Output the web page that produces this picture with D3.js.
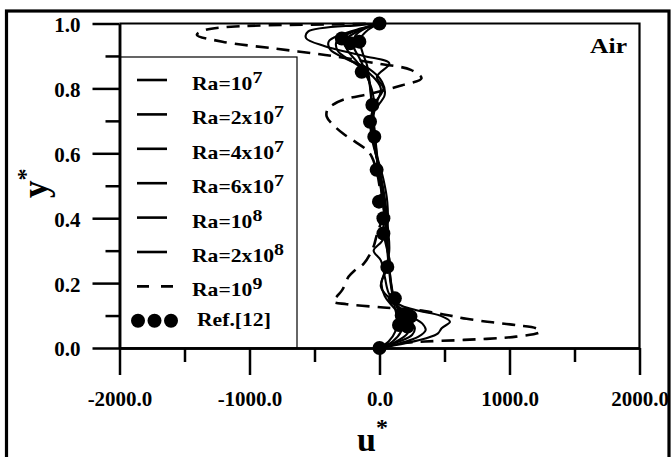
<!DOCTYPE html>
<html>
<head>
<meta charset="utf-8">
<script src="https://cdn.jsdelivr.net/npm/d3@7/dist/d3.min.js"></script>
<style>
  html, body { margin: 0; padding: 0; background: #fff; }
  svg { display: block; }
  text { font-family: "Liberation Serif", "Times New Roman", serif; font-weight: bold; fill: #000; }
</style>
</head>
<body>
<svg id="chart" width="671" height="457"></svg>
<script>
// Horizontal velocity profiles u* across the cavity height y* (air)
const y_ra1e7 = [0, 0.02, 0.05, 0.09, 0.13, 0.2, 0.3, 0.4, 0.5, 0.6, 0.7, 0.8, 0.87, 0.91, 0.95, 0.98, 1.0];
const u_ra1e7 = [0, 70, 120, 135, 115, 85, 60, 40, 10, -20, -45, -70, -95, -130, -150, -90, 0];

const y_ra2e7 = [0, 0.02, 0.05, 0.08, 0.12, 0.17, 0.25, 0.35, 0.45, 0.55, 0.65, 0.75, 0.83, 0.89, 0.93, 0.96, 0.985, 1.0];
const u_ra2e7 = [0, 100, 165, 180, 140, 100, 75, 55, 25, -10, -35, -60, -85, -150, -200, -190, -110, 0];

const y_ra4e7 = [0, 0.02, 0.045, 0.07, 0.1, 0.14, 0.2, 0.27, 0.33, 0.4, 0.47, 0.55, 0.63, 0.7, 0.77, 0.83, 0.88, 0.92, 0.95, 0.975, 1.0];
const u_ra4e7 = [0, 130, 215, 230, 175, 120, 90, 70, 60, 50, 30, -5, -40, -55, -45, -90, -170, -250, -260, -170, 0];

const y_ra6e7 = [0, 0.02, 0.04, 0.065, 0.09, 0.12, 0.16, 0.2, 0.24, 0.3, 0.37, 0.45, 0.52, 0.6, 0.67, 0.74, 0.8, 0.84, 0.88, 0.915, 0.945, 0.97, 0.99, 1.0];
const u_ra6e7 = [0, 150, 250, 270, 200, 120, 40, 15, 45, 75, 65, 45, 15, -30, -55, -35, 10, -60, -200, -320, -330, -230, -90, 0];

const y_ra1e8 = [0, 0.015, 0.035, 0.055, 0.075, 0.1, 0.13, 0.17, 0.22, 0.27, 0.3, 0.33, 0.38, 0.45, 0.52, 0.6, 0.66, 0.72, 0.78, 0.82, 0.86, 0.89, 0.92, 0.945, 0.965, 0.985, 1.0];
const u_ra1e8 = [0, 160, 300, 355, 330, 230, 140, 70, 40, 10, -45, 20, 60, 60, 30, -25, -60, -55, 40, 20, -80, -250, -380, -390, -300, -140, 0];

const y_ra2e8 = [0, 0.015, 0.03, 0.045, 0.061, 0.081, 0.1, 0.115, 0.13, 0.16, 0.19, 0.22, 0.26, 0.3, 0.36, 0.43, 0.5, 0.57, 0.63, 0.69, 0.75, 0.8, 0.836, 0.877, 0.9, 0.93, 0.955, 0.975, 0.995, 1.0];
const u_ra2e8 = [0, 200, 360, 450, 478, 542, 465, 300, 170, 60, 10, 30, 80, 60, 30, 40, 20, -10, -50, -70, -40, 30, -20, 76, -120, -420, -565, -550, -155, 0];

const y_ra1e9 = [0, 0.01, 0.015, 0.02, 0.025, 0.035, 0.05, 0.06, 0.07, 0.08, 0.09, 0.1, 0.107, 0.117, 0.125, 0.135, 0.143, 0.158, 0.18, 0.22, 0.24, 0.26, 0.31, 0.35, 0.4, 0.45, 0.5, 0.55, 0.59, 0.61, 0.636, 0.66, 0.687, 0.713, 0.735, 0.75, 0.765, 0.785, 0.81, 0.831, 0.857, 0.877, 0.903, 0.923, 0.944, 0.965, 0.98, 0.99, 0.998, 1.0];
const u_ra1e9 = [0, 60, 150, 350, 650, 1050, 1235, 1210, 1055, 850, 670, 540, 440, 286, 30, -252, -355, -330, -285, -237, -188, -121, -48, -20, 20, 15, 0, -25, -60, -98, -188, -278, -355, -406, -400, -357, -280, -55, 175, 323, 241, -22, -418, -812, -1208, -1405, -1339, -1142, -288, 0];

// Reference data points (Ref. [12])
const y_ref = [0, 0.066, 0.10, 0.071, 0.097, 0.10, 0.153, 0.25, 0.353, 0.40, 0.451, 0.549, 0.651, 0.697, 0.749, 0.851, 0.944, 0.939, 0.954, 1.0];
const u_ref = [0, 215, 171, 150, 238, 200, 118, 60, 30, 30, -4, -22, -40, -73, -55, -137, -155, -225, -290, 0];

// Legend labels: base text and exponent
const legendBase = ["Ra=10", "Ra=2x10", "Ra=4x10", "Ra=6x10", "Ra=10", "Ra=2x10", "Ra=10"];
const legendExp = ["7", "7", "7", "7", "8", "8", "9"];
const refLabel = "Ref.[12]";

// Axis ticks
const xMajorTicks = [-2000, -1000, 0, 1000, 2000];
const xMinorTicks = [-1500, -500, 500, 1500];
const yMajorTicks = [0, 0.2, 0.4, 0.6, 0.8, 1.0];
const yMinorTicks = [0.1, 0.3, 0.5, 0.7, 0.9];

const series = [
  { y: y_ra1e7, u: u_ra1e7, dash: null },
  { y: y_ra2e7, u: u_ra2e7, dash: null },
  { y: y_ra4e7, u: u_ra4e7, dash: null },
  { y: y_ra6e7, u: u_ra6e7, dash: null },
  { y: y_ra1e8, u: u_ra1e8, dash: null },
  { y: y_ra2e8, u: u_ra2e8, dash: null },
  { y: y_ra1e9, u: u_ra1e9, dash: "13,8" }
];

const svg = d3.select("#chart");
const L = 119.5, R = 639.5, T = 23.5, B = 348;

const x = d3.scaleLinear().domain([-2000, 2000]).range([L, R]);
const y = d3.scaleLinear().domain([0, 1]).range([B, T]);

// outer frame
svg.append("rect")
  .attr("x", 6.5).attr("y", 11)
  .attr("width", 662.5).attr("height", 460)
  .attr("fill", "none").attr("stroke", "#000").attr("stroke-width", 3.2);

// top and right border of the plotting area
svg.append("path")
  .attr("d", `M${L},${T}H${R}V${B}`)
  .attr("fill", "none").attr("stroke", "#000").attr("stroke-width", 2.2);

// legend box
const legendLeft = L, legendTop = 57, legendRight = 297;
svg.append("rect")
  .attr("x", legendLeft).attr("y", legendTop)
  .attr("width", legendRight - legendLeft).attr("height", B - legendTop)
  .attr("fill", "#fff").attr("stroke", "#000").attr("stroke-width", 1.2);

// axes
const fmt = d => d.toFixed(1);
const styleAxis = g => {
  g.select(".domain").attr("stroke-width", 2.5);
  g.selectAll(".tick line").attr("stroke-width", 2.5);
  g.selectAll("text").attr("font-size", 21).attr("font-family", null).attr("fill", "#000");
};

svg.append("g").attr("transform", `translate(0,${B})`)
  .call(d3.axisBottom(x).tickValues(xMinorTicks).tickSize(14).tickSizeOuter(0).tickFormat(""))
  .call(styleAxis);
svg.append("g").attr("transform", `translate(0,${B})`)
  .call(d3.axisBottom(x).tickValues(xMajorTicks).tickSize(27).tickSizeOuter(0).tickPadding(16).tickFormat(fmt))
  .call(styleAxis)
  .call(g => g.selectAll("text").attr("dy", "0.71em"));

svg.append("g").attr("transform", `translate(${L},0)`)
  .call(d3.axisLeft(y).tickValues(yMinorTicks).tickSize(14).tickSizeOuter(0).tickFormat(""))
  .call(styleAxis);
svg.append("g").attr("transform", `translate(${L},0)`)
  .call(d3.axisLeft(y).tickValues(yMajorTicks).tickSize(27).tickSizeOuter(0).tickPadding(12).tickFormat(fmt))
  .call(styleAxis)
  .call(g => g.selectAll("text").attr("dy", "0.38em"));

// profile curves
const line = d3.line()
  .x(d => x(d[0]))
  .y(d => y(d[1]))
  .curve(d3.curveCatmullRom.alpha(0.5));

const plot = svg.append("g");
series.forEach(s => {
  const pts = s.u.map((u, i) => [u, s.y[i]]);
  plot.append("path")
    .attr("d", line(pts))
    .attr("fill", "none")
    .attr("stroke", "#000")
    .attr("stroke-width", s.dash ? 2.6 : 2.1)
    .attr("stroke-dasharray", s.dash);
});

// reference points
plot.selectAll("circle.ref")
  .data(u_ref.map((u, i) => [u, y_ref[i]]))
  .join("circle")
  .attr("class", "ref")
  .attr("cx", d => x(d[0]))
  .attr("cy", d => y(d[1]))
  .attr("r", 7)
  .attr("fill", "#000");

// legend entries
const legendY0 = 80, legendStep = 34.4;
const lg = svg.append("g");
legendBase.forEach((txt, i) => {
  const yy = legendY0 + i * legendStep;
  const s = series[i];
  lg.append("line")
    .attr("x1", 137).attr("x2", s.dash ? 173 : 167)
    .attr("y1", yy).attr("y2", yy)
    .attr("stroke", "#000").attr("stroke-width", 2.6)
    .attr("stroke-dasharray", s.dash ? "12,12" : null);
  const t = lg.append("text")
    .attr("transform", `translate(192,${yy + 10}) scale(1.17,1)`)
    .attr("font-size", 18.5);
  t.append("tspan").text(txt);
  t.append("tspan").attr("dy", -7).attr("font-size", 17).text(legendExp[i]);
});
const refY = legendY0 + 7 * legendStep;
lg.selectAll("circle.leg")
  .data([138, 154.5, 171])
  .join("circle")
  .attr("class", "leg")
  .attr("cx", d => d).attr("cy", refY).attr("r", 7).attr("fill", "#000");
lg.append("text")
  .attr("transform", `translate(197,${refY + 5}) scale(1.17,1)`)
  .attr("font-size", 18.5)
  .text(refLabel);

// fluid label
svg.append("text")
  .attr("transform", "translate(627,53) scale(1.22,1)")
  .attr("text-anchor", "end")
  .attr("font-size", 21)
  .text("Air");

// axis titles
const xt = svg.append("text").attr("x", 357).attr("y", 451).attr("font-size", 34);
xt.append("tspan").text("u");
xt.append("tspan").attr("dy", -16).attr("font-size", 24).text("*");

const yt = svg.append("text").attr("transform", "translate(47,198) rotate(-90)").attr("font-size", 35);
yt.append("tspan").text("y");
yt.append("tspan").attr("dy", -14).attr("font-size", 24).text("*");
</script>
</body>
</html>
